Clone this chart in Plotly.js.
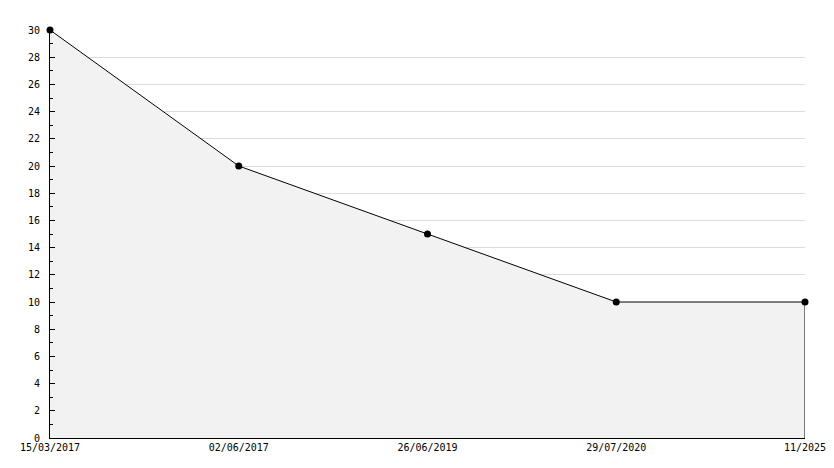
<!DOCTYPE html>
<html>
<head>
<meta charset="utf-8">
<script src="https://cdn.plot.ly/plotly-3.0.1.min.js"></script>
<style>html,body{margin:0;padding:0;background:#fff;}#chart{width:834px;height:468px;}</style>
</head>
<body>
<div id="chart"></div>
<script>
const categories = ["15/03/2017", "02/06/2017", "26/06/2019", "29/07/2020", "11/2025"];
const values = [30, 20, 15, 10, 10];
const yTicks = [0, 2, 4, 6, 8, 10, 12, 14, 16, 18, 20, 22, 24, 26, 28, 30];

const last = categories.length - 1;
const traces = [
  {
    x: categories,
    y: values,
    type: "scatter",
    mode: "lines",
    fill: "tozeroy",
    fillcolor: "#f2f2f2",
    line: {color: "#000", width: 1},
    cliponaxis: false,
    hoverinfo: "x+y"
  },
  {
    x: [categories[last], categories[last]],
    y: [0, values[last]],
    type: "scatter",
    mode: "lines",
    line: {color: "#000", width: 1},
    cliponaxis: false,
    hoverinfo: "skip"
  },
  {
    x: categories,
    y: values,
    type: "scatter",
    mode: "markers",
    marker: {color: "#000", size: 7, symbol: "circle"},
    cliponaxis: false,
    hoverinfo: "skip"
  }
];

const layout = {
  width: 834,
  height: 468,
  margin: {l: 50, r: 29, t: 30, b: 30},
  paper_bgcolor: "#fff",
  plot_bgcolor: "#fff",
  showlegend: false,
  font: {family: "DejaVu Sans Mono, monospace", size: 10, color: "#000"},
  xaxis: {
    type: "category",
    categoryorder: "array",
    categoryarray: categories,
    range: [0, last],
    showgrid: false,
    zeroline: false,
    showline: true,
    linecolor: "#000",
    linewidth: 1,
    ticks: "",
    tickfont: {family: "DejaVu Sans Mono, monospace", size: 10, color: "#000"},
    fixedrange: true
  },
  yaxis: {
    range: [0, 30],
    tickvals: yTicks,
    ticktext: yTicks.map(String),
    showgrid: true,
    gridcolor: "#dcdcdc",
    gridwidth: 1,
    zeroline: false,
    showline: true,
    linecolor: "#000",
    linewidth: 1,
    ticks: "inside",
    ticklen: 5,
    tickcolor: "#000",
    ticklabelstandoff: 7,
    minor: {dtick: 1, ticks: "inside", ticklen: 3, tickcolor: "#000", showgrid: false},
    tickfont: {family: "DejaVu Sans Mono, monospace", size: 10, color: "#000"},
    fixedrange: true
  }
};

Plotly.newPlot("chart", traces, layout, {displayModeBar: false, staticPlot: true});
</script>
</body>
</html>
